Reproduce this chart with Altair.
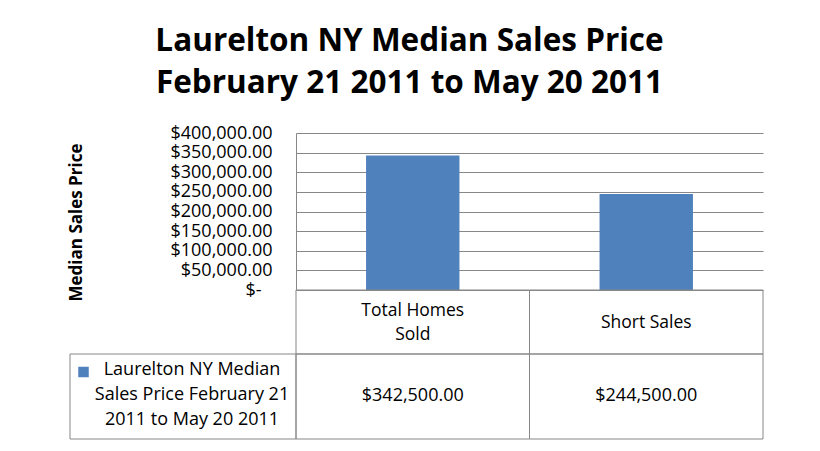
import altair as alt
import pandas as pd

# ---- data ----
title_lines = ["Laurelton NY Median Sales Price", "February 21 2011 to May 20 2011"]
categories = ["Total Homes Sold", "Short Sales"]
category_lines = ["Total Homes\nSold", "Short Sales"]
values = [342500, 244500]
series_name = "Laurelton NY Median Sales Price February 21 2011 to May 20 2011"
series_lines = "Laurelton NY Median\nSales Price February 21\n2011 to May 20 2011"
y_ticks = [0, 50000, 100000, 150000, 200000, 250000, 300000, 350000, 400000]
y_axis_title = "Median Sales Price"

df = pd.DataFrame({"category": categories, "label": category_lines, "value": values})
df["value_text"] = ["$" + f"{v:,.2f}" for v in values]
legend_df = pd.DataFrame({"series": [series_name], "text": [series_lines]})

FONT = "Open Sans"
GRID = "#878787"
BAR = "#4F81BD"
FS_NUM = 18
FS_TXT = 17.5

xenc = alt.X("category:N", sort=categories,
             scale=alt.Scale(paddingInner=0, paddingOuter=0), axis=None)
base = alt.Chart(df).encode(x=xenc)

bars = base.mark_bar(color=BAR, width=alt.RelativeBandSize(0.4)).encode(
    y=alt.Y("value:Q", scale=alt.Scale(domain=[0, 400000], nice=False),
            axis=alt.Axis(values=y_ticks, grid=True, gridColor=GRID, gridWidth=1,
                          ticks=False, tickSize=0, domain=True, domainColor=GRID,
                          labelExpr="datum.value == 0 ? '$-' : '$' + format(datum.value, ',.2f')",
                          labelFont=FONT, labelFontSize=FS_NUM, labelColor="black",
                          labelPadding={"condition": {"test": "datum.value == 0", "value": 35},
                                        "value": 24},
                          labelOverlap=False,
                          title=y_axis_title, titleFont=FONT, titleFontSize=17,
                          titleFontWeight="bold", titleColor="black",
                          titleX=-220, titleY=89, titleAngle=270,
                          titleBaseline="middle", titleAlign="center"))
)

cells_top = base.mark_rect(fillOpacity=0, stroke=GRID, strokeWidth=1).encode(
    y=alt.value(157), y2=alt.value(221))
cells_bottom = base.mark_rect(fillOpacity=0, stroke=GRID, strokeWidth=1).encode(
    y=alt.value(221), y2=alt.value(306))

cat_text = base.transform_calculate(
    nlines="length(split(datum.label, '\\n'))"
).transform_calculate(
    ypix="189.5 - (datum.nlines - 1) * 12"
).mark_text(font=FONT, fontSize=FS_TXT, lineBreak="\n", lineHeight=24,
            baseline="middle", color="black").encode(
    y=alt.Y("ypix:Q", scale=None), text="label:N")
val_text = base.mark_text(font=FONT, fontSize=FS_NUM, baseline="middle", color="black").encode(
    y=alt.value(263), text="value_text:N")

leg = alt.Chart(legend_df)
leg_cell = leg.mark_rect(fillOpacity=0, stroke=GRID, strokeWidth=1).encode(
    x=alt.value(-226), x2=alt.value(0), y=alt.value(221), y2=alt.value(306))
leg_sym = leg.mark_square(size=110, color=BAR, opacity=1).encode(
    x=alt.value(-212.5), y=alt.value(239))
leg_text = leg.mark_text(font=FONT, fontSize=18, lineBreak="\n", lineHeight=25,
                         baseline="middle", color="black").encode(
    x=alt.value(-104), y=alt.value(237), text="text:N")

chart = alt.layer(bars, cells_top, cells_bottom, cat_text, val_text,
                  leg_cell, leg_sym, leg_text).properties(
    width=467, height=157,
    title=alt.TitleParams(text=title_lines, font=FONT, fontSize=31.5, fontWeight="bold",
                          lineHeight=42, anchor="middle", dx=-120, offset=25,
                          color="black"),
    padding={"left": 288, "top": 125, "right": 40, "bottom": 150},
    autosize=alt.AutoSizeParams(type="none"),
    background="white",
).configure_view(stroke=None)

chart.save("out.html", embed_options={"renderer": "svg", "actions": False})
